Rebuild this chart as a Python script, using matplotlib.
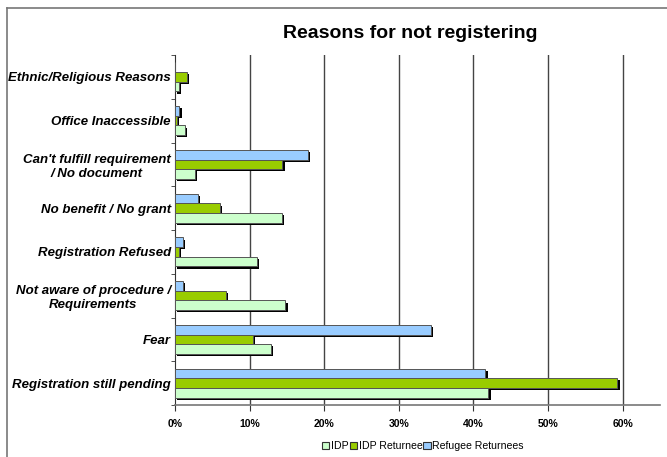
import matplotlib
matplotlib.use('Agg')
import matplotlib.pyplot as plt
import matplotlib.patheffects as pe
from matplotlib.lines import Line2D
from matplotlib.ticker import FixedLocator, PercentFormatter
import numpy as np

plt.rcParams['font.family'] = ['Liberation Sans', 'DejaVu Sans']

# reasons, listed top to bottom
reasons = ['Ethnic/Religious Reasons', 'Office Inaccessible',
           "Can't fulfill requirement\n/ No document", 'No benefit / No grant',
           'Registration Refused', 'Not aware of procedure /\nRequirements',
           'Fear', 'Registration still pending']

# shares (fraction of respondents)
idp = [0.005, 0.013, 0.027, 0.143, 0.110, 0.148, 0.128, 0.420]
idp_returnee = [0.016, 0.003, 0.144, 0.060, 0.005, 0.068, 0.104, 0.593]
refugee_returnee = [0.0, 0.006, 0.178, 0.031, 0.011, 0.011, 0.343, 0.416]

series = ['IDP', 'IDP Returnee', 'Refugee Returnees']
colors = ['#CCFFCC', '#99CC00', '#99CCFF']

fig = plt.figure(figsize=(6.67, 4.57), dpi=100)
ax = fig.add_axes([0.2624, 0.1138, 0.7271, 0.7658])

y = np.arange(len(reasons))
h = 0.222
shadow = [pe.SimplePatchShadow(offset=(1.6, -1.6), shadow_rgbFace='black', alpha=1.0), pe.Normal()]

# blue on top, green in the middle, IDP at the bottom of each group
for vals, off, col in [(refugee_returnee, -h, colors[2]),
                       (idp_returnee, 0.0, colors[1]),
                       (idp, h, colors[0])]:
    bars = ax.barh(y + off, vals, height=h, color=col, edgecolor='#555555',
                   linewidth=0.7, zorder=3)
    for b in bars:
        if b.get_width() > 0:
            b.set_path_effects(shadow)

ax.set_xlim(0, 0.65)
ax.set_ylim(len(reasons) - 0.5, -0.5)

ax.set_xticks(np.arange(0, 0.61, 0.1))
ax.xaxis.set_major_formatter(PercentFormatter(1.0, decimals=0))
for xv in np.arange(0.1, 0.61, 0.1):
    ax.axvline(xv, color='#444444', lw=1.0, zorder=1)

ax.set_yticks(y)
ax.set_yticklabels(reasons, fontsize=9.5, fontweight='bold', fontstyle='italic')
for lab in ax.get_yticklabels():
    lab.set_multialignment('center')
ax.yaxis.set_minor_locator(FixedLocator(np.arange(-0.5, len(reasons), 1.0)))
ax.tick_params(axis='y', which='major', length=0, pad=3)
ax.tick_params(axis='y', which='minor', length=3, color='#333333')
ax.tick_params(axis='x', length=4, color='#333333', labelsize=7.5, pad=6)
for lab in ax.get_xticklabels():
    lab.set_fontweight('bold')

for s in ['top', 'right']:
    ax.spines[s].set_visible(False)
ax.spines['left'].set_color('#333333')
ax.spines['bottom'].set_color('#777777')
ax.spines['bottom'].set_linewidth(1.2)

fig.text(0.615, 0.926, 'Reasons for not registering', ha='center', va='center',
         fontsize=14, fontweight='bold')

handles = [plt.Rectangle((0, 0), 1, 1, facecolor=c, edgecolor='#333333', lw=0.8) for c in colors]
fig.legend(handles, series, loc='center', bbox_to_anchor=(0.634, 0.024), ncol=3,
           frameon=False, fontsize=7.6, handlelength=0.7, handleheight=0.7,
           handletextpad=0.15, columnspacing=0.1, borderpad=0)

# outer frame of the chart
fig.add_artist(Line2D([0.0105, 1.0], [0.9825, 0.9825], color='#777777', lw=1.2))
fig.add_artist(Line2D([0.0105, 0.0105], [0.0, 0.9825], color='#777777', lw=1.2))

fig.savefig('out.png', dpi=100)
